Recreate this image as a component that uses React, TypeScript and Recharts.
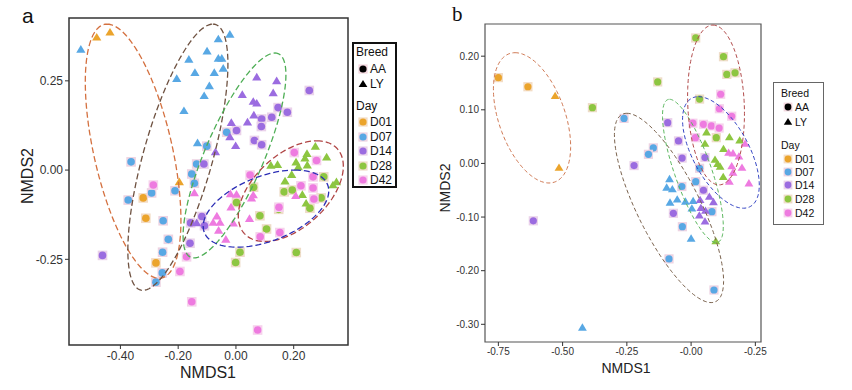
import React from "react";
import { ScatterChart, Scatter, XAxis, YAxis, ReferenceArea } from "recharts";

type Pt = [number, number];

const days = ["D01", "D07", "D14", "D28", "D42"];
const breeds = ["AA", "LY"];
const dayColors = ["#EBA42C", "#58A8E4", "#9B6CE0", "#8DC641", "#EE7BE0"];
const haloColors = ["#F3DCC4", "#EDD3E2", "#EAD2EA", "#EEDCC8", "#F6D2EC"];

// panel a points (NMDS1, NMDS2)
const aD01AA: Pt[] = [[-0.321, -0.078], [-0.312, -0.135], [-0.277, -0.26]];
const aD01LY: Pt[] = [[-0.482, 0.372], [-0.436, 0.386], [-0.196, -0.033]];
const aD07AA: Pt[] = [
  [-0.032, 0.106], [-0.101, 0.067], [-0.136, 0.017], [-0.153, -0.011], [-0.144, -0.037],
  [-0.211, -0.058], [-0.292, -0.064], [-0.373, -0.084], [-0.363, 0.023], [-0.252, -0.142],
  [-0.234, -0.194], [-0.254, -0.23], [-0.255, -0.288], [-0.277, -0.314],
];
const aD07LY: Pt[] = [
  [-0.537, 0.338], [-0.205, 0.256], [-0.163, 0.31], [-0.142, 0.273], [-0.18, 0.166],
  [-0.1, 0.333], [-0.11, 0.208], [-0.092, 0.236], [-0.075, 0.273], [-0.061, 0.367],
  [-0.061, 0.313], [-0.049, 0.313], [-0.044, 0.285], [-0.021, 0.38], [-0.133, 0.076],
];
const aD14AA: Pt[] = [
  [0.254, 0.223], [0.146, 0.175], [0.178, 0.162], [0.124, 0.148], [0.089, 0.143],
  [0.088, 0.122], [0.002, 0.111], [0.064, 0.083], [0.089, 0.071], [-0.111, 0.017],
  [-0.157, -0.148], [-0.118, -0.13], [-0.109, -0.156], [-0.159, -0.205], [-0.462, -0.239],
];
const aD14LY: Pt[] = [
  [0.072, 0.26], [0.141, 0.25], [0.022, 0.211], [0.129, 0.216], [0.06, 0.192],
  [0.072, 0.187], [0.062, 0.154], [0.04, 0.134], [-0.016, 0.133], [-0.021, 0.093],
  [-0.001, 0.068], [-0.071, 0.051], [-0.136, -0.148],
];
const aD28AA: Pt[] = [
  [0.304, -0.019], [0.167, -0.061], [0.195, -0.056], [0.295, -0.078], [0.256, -0.107],
  [0.148, -0.11], [0.083, -0.128], [0.106, -0.165], [0.061, -0.048], [0.002, -0.091],
  [0.014, -0.23], [-0.001, -0.259], [0.209, -0.231],
];
const aD28LY: Pt[] = [
  [0.275, 0.066], [0.246, 0.046], [0.239, 0.033], [0.208, 0.022], [0.314, 0.036],
  [0.121, 0.013], [0.144, 0.015], [0.216, 0.009], [0.247, 0.014], [0.17, -0.031],
  [0.193, -0.013], [0.348, -0.033], [0.336, -0.042], [0.23, -0.069], [0.243, -0.093],
];
const aD42AA: Pt[] = [
  [0.202, 0.049], [0.279, 0.027], [0.225, -0.044], [0.267, -0.05], [0.27, -0.081],
  [0.267, -0.019], [0.049, -0.014], [0.149, -0.104], [0.152, -0.175], [0.084, -0.187],
  [-0.171, -0.243], [-0.194, -0.284], [-0.153, -0.369], [0.075, -0.448], [-0.286, -0.042],
];
const aD42LY: Pt[] = [
  [-0.144, -0.064], [-0.019, -0.067], [0.002, -0.068], [0.06, -0.07], [0.054, -0.079],
  [-0.017, -0.104], [-0.066, -0.129], [-0.079, -0.147], [-0.055, -0.147], [-0.06, -0.169],
  [-0.009, -0.149], [-0.035, -0.194], [0.047, -0.136], [0.207, -0.072],
];

// panel b points
const bD01AA: Pt[] = [[-0.75, 0.16], [-0.635, 0.143]];
const bD01LY: Pt[] = [[-0.529, 0.126], [-0.514, -0.008]];
const bD07AA: Pt[] = [
  [-0.261, 0.084], [-0.147, 0.029], [-0.166, 0.017], [0.033, -0.009], [-0.036, -0.043],
  [0.018, -0.034], [-0.034, -0.118], [0.081, -0.09], [-0.086, -0.178], [0.089, -0.236],
];
const bD07LY: Pt[] = [
  [-0.084, -0.029], [-0.095, -0.045], [-0.073, -0.048], [-0.082, -0.073], [-0.054, -0.067],
  [-0.022, -0.071], [0.008, -0.07], [0.003, -0.084], [0.0, -0.14], [-0.423, -0.306],
];
const bD14AA: Pt[] = [
  [-0.091, 0.076], [-0.049, 0.042], [-0.035, 0.01], [0.054, 0.011], [-0.222, -0.004],
  [0.048, -0.05], [-0.069, -0.093], [-0.614, -0.107],
];
const bD14LY: Pt[] = [
  [0.035, -0.068], [0.071, -0.062], [0.087, -0.072], [0.038, -0.083], [0.056, -0.088],
  [0.032, -0.097], [0.054, -0.108],
];
const bD28AA: Pt[] = [
  [0.018, 0.234], [0.126, 0.199], [0.139, 0.166], [0.171, 0.169], [-0.13, 0.152],
  [-0.384, 0.104], [0.033, 0.12], [0.098, 0.048],
];
const bD28LY: Pt[] = [
  [0.06, 0.058], [0.054, 0.037], [0.093, 0.007], [0.103, -0.001], [0.113, -0.006],
  [0.126, 0.027], [0.149, 0.049], [0.125, -0.025], [0.189, 0.043], [0.096, -0.145],
];
const bD42AA: Pt[] = [
  [0.115, 0.129], [0.11, 0.102], [0.158, 0.088], [0.007, 0.075], [0.048, 0.073],
  [0.079, 0.07], [0.109, 0.066], [0.017, 0.048],
];
const bD42LY: Pt[] = [
  [0.21, 0.037], [0.146, 0.02], [0.163, 0.019], [0.186, 0.013], [0.158, -0.005],
  [0.198, -0.008], [0.163, -0.017], [0.149, -0.034], [0.225, -0.037],
];

// ellipses: centre x, centre y, top-axis dx, top-axis dy, horizontal half-chord
const aEllipses = [
  [-0.356, 0.053, -0.09, 0.356, 0.139],
  [-0.201, 0.036, 0.121, 0.373, 0.124],
  [-0.005, 0.041, 0.14, 0.287, 0.11],
  [0.19, -0.059, 0.09, 0.141, 0.158],
  [0.104, -0.108, 0.1, 0.108, 0.193],
];
const aEllipseColors = ["#D4703F", "#6E5140", "#4EAE55", "#B04545", "#2B2DB5"];
const bEllipses = [
  [-0.619, 0.085, -0.066, 0.1215, 0.135],
  [-0.086, -0.083, -0.164, 0.1765, 0.135],
  [0.007, -0.014, -0.091, 0.1336, 0.0755],
  [0.097, 0.109, -0.012, 0.149, 0.11],
  [0.116, 0.0205, -0.0875, 0.104, 0.121],
];
const bEllipseColors = ["#D07A55", "#7B634E", "#5DB860", "#B24C4C", "#3344C4"];

const aXTicks = [-0.4, -0.2, 0, 0.2];
const aYTicks = [-0.25, 0, 0.25];
const bXTicks = [-0.75, -0.5, -0.25, 0, 0.25];
const bXTickLabels = ["-0.75", "-0.50", "-0.25", "-0.00", "-0.25"];
const bYTicks = [-0.3, -0.2, -0.1, 0, 0.1, 0.2];

const toXY = (pts: Pt[]) => pts.map(([x, y]) => ({ x, y }));

const outline = (e: number[]) => {
  const [cx, cy, ux, uy, vx] = e;
  const out = [];
  for (let i = 0; i <= 120; i++) {
    const t = (i / 120) * Math.PI * 2;
    out.push({ x: cx + ux * Math.cos(t) + vx * Math.sin(t), y: cy + uy * Math.cos(t) });
  }
  return out;
};

const dot = (color: string, halo: string, r: number) => (p: any) => (
  <g>
    <rect x={p.cx - r - 1} y={p.cy - r - 1} width={2 * r + 2} height={2 * r + 2} fill={halo} />
    <circle cx={p.cx} cy={p.cy} r={r} fill={color} />
  </g>
);
const tri = (color: string, s: number) => (p: any) => (
  <polygon
    points={`${p.cx},${p.cy - s} ${p.cx - s * 1.05},${p.cy + s * 0.75} ${p.cx + s * 1.05},${p.cy + s * 0.75}`}
    fill={color}
  />
);
const noShape = () => <g />;

const tickStyle = { fill: "#333", fontFamily: "Liberation Sans, Arial, sans-serif" };

function Panel(props: any) {
  const { aa, ly, ellipses, ellipseColors, xDom, yDom, xTicks, yTicks, xFmt, yFmt,
    width, margin, yWidth, xHeight, fontSize, frame, frameW, r, s, dash, ellW } = props;
  return (
    <ScatterChart width={width} height={390} margin={margin}>
      <XAxis type="number" dataKey="x" domain={xDom} ticks={xTicks} tickFormatter={xFmt}
        allowDataOverflow axisLine={false} tickSize={4} tickMargin={2} height={xHeight}
        tick={{ ...tickStyle, fontSize }} tickLine={{ stroke: "#333" }} interval={0} />
      <YAxis type="number" dataKey="y" domain={yDom} ticks={yTicks} tickFormatter={yFmt}
        allowDataOverflow axisLine={false} tickSize={4} tickMargin={2} width={yWidth}
        tick={{ ...tickStyle, fontSize }} tickLine={{ stroke: "#333" }} interval={0} />
      <ReferenceArea x1={xDom[0]} x2={xDom[1]} y1={yDom[0]} y2={yDom[1]} fill="none"
        fillOpacity={0} stroke={frame} strokeWidth={frameW} />
      {days.map((d, i) => (
        <Scatter key={"aa" + d} data={toXY(aa[i])} shape={dot(dayColors[i], haloColors[i], r)}
          isAnimationActive={false} />
      ))}
      {days.map((d, i) => (
        <Scatter key={"ly" + d} data={toXY(ly[i])} shape={tri(dayColors[i], s)}
          isAnimationActive={false} />
      ))}
      {ellipses.map((e: number[], i: number) => (
        <Scatter key={"el" + i} data={outline(e)} shape={noShape} lineType="joint"
          line={{ stroke: ellipseColors[i], strokeWidth: ellW, strokeDasharray: dash, fill: "none" }}
          isAnimationActive={false} />
      ))}
    </ScatterChart>
  );
}

function Legend(props: any) {
  const { left, top, width, height, border, fontSize, tx, ix, rows, r } = props;
  const font = "Liberation Sans, Arial, sans-serif";
  const text = (label: string, x: number, y: number) => (
    <div key={label + y} style={{ position: "absolute", left: x, top: y - fontSize * 0.6,
      fontSize, lineHeight: `${fontSize * 1.2}px`, fontFamily: font, color: "#111", whiteSpace: "nowrap" }}>
      {label}
    </div>
  );
  return (
    <div style={{ position: "absolute", left, top, width, height, border, boxSizing: "border-box", background: "#fff" }}>
      {text("Breed", tx, rows[0])}
      {breeds.map((b, i) => (
        <React.Fragment key={b}>
          <svg style={{ position: "absolute", left: ix - 6, top: rows[i + 1] - 6 }} width={12} height={12}>
            {i === 0 ? (
              <g>
                <rect x={6 - r - 1} y={6 - r - 1} width={2 * r + 2} height={2 * r + 2} fill="#F2D6DE" />
                <circle cx={6} cy={6} r={r} fill="#000" />
              </g>
            ) : (
              <polygon points={`6,${6 - r - 0.5} ${6 - r - 0.8},${6 + r * 0.8} ${6 + r + 0.8},${6 + r * 0.8}`} fill="#000" />
            )}
          </svg>
          {text(b, ix + 7, rows[i + 1])}
        </React.Fragment>
      ))}
      {text("Day", tx, rows[3])}
      {days.map((d, i) => (
        <React.Fragment key={d}>
          <svg style={{ position: "absolute", left: ix - 6, top: rows[i + 4] - 6 }} width={12} height={12}>
            <rect x={6 - r - 1} y={6 - r - 1} width={2 * r + 2} height={2 * r + 2} fill={haloColors[i]} />
            <circle cx={6} cy={6} r={r} fill={dayColors[i]} />
          </svg>
          {text(d, ix + 7, rows[i + 4])}
        </React.Fragment>
      ))}
    </div>
  );
}

export default function App() {
  const sans = "Liberation Sans, Arial, sans-serif";
  return (
    <div style={{ position: "absolute", left: 0, top: 0, width: 852, height: 390, background: "#fff", overflow: "hidden" }}>
      <div style={{ position: "absolute", left: 0, top: 0 }}>
        <Panel
          aa={[aD01AA, aD07AA, aD14AA, aD28AA, aD42AA]}
          ly={[aD01LY, aD07LY, aD14LY, aD28LY, aD42LY]}
          ellipses={aEllipses} ellipseColors={aEllipseColors}
          xDom={[-0.578, 0.388]} yDom={[-0.49, 0.426]}
          xTicks={aXTicks} yTicks={aYTicks}
          xFmt={(v: number) => v.toFixed(2)} yFmt={(v: number) => v.toFixed(2)}
          width={350} margin={{ top: 18, right: 2, bottom: 0, left: 9 }}
          yWidth={60} xHeight={45} fontSize={12} frame="#333" frameW={1.5}
          r={3.8} s={4.4} dash="6 3" ellW={1.3}
        />
      </div>
      <div style={{ position: "absolute", left: 430, top: 0 }}>
        <Panel
          aa={[bD01AA, bD07AA, bD14AA, bD28AA, bD42AA]}
          ly={[bD01LY, bD07LY, bD14LY, bD28LY, bD42LY]}
          ellipses={bEllipses} ellipseColors={bEllipseColors}
          xDom={[-0.802, 0.272]} yDom={[-0.333, 0.26]}
          xTicks={bXTicks} yTicks={bYTicks}
          xFmt={(v: number) => bXTickLabels[bXTicks.indexOf(v)] ?? v.toFixed(2)}
          yFmt={(v: number) => v.toFixed(2)}
          width={345} margin={{ top: 24, right: 14, bottom: 0, left: 5 }}
          yWidth={50} xHeight={48} fontSize={10} frame="#555" frameW={1.2}
          r={3.6} s={4.2} dash="4 2.5" ellW={1}
        />
      </div>

      <div style={{ position: "absolute", left: 22, top: 4, fontSize: 21, fontFamily: sans, color: "#111" }}>a</div>
      <div style={{ position: "absolute", left: 452, top: 2, fontSize: 21, fontFamily: "Liberation Serif, Times New Roman, serif", color: "#111" }}>b</div>

      <div style={{ position: "absolute", left: 208, top: 373, transform: "translate(-50%,-50%)", fontSize: 16, fontFamily: sans, color: "#222" }}>NMDS1</div>
      <div style={{ position: "absolute", left: 28, top: 176, transform: "translate(-50%,-50%) rotate(-90deg)", fontSize: 16, fontFamily: sans, color: "#222" }}>NMDS2</div>
      <div style={{ position: "absolute", left: 626, top: 368, transform: "translate(-50%,-50%)", fontSize: 14, fontFamily: sans, color: "#222" }}>NMDS1</div>
      <div style={{ position: "absolute", left: 445, top: 188, transform: "translate(-50%,-50%) rotate(-90deg)", fontSize: 14, fontFamily: sans, color: "#222" }}>NMDS2</div>

      <Legend left={352} top={42} width={45} height={146} border="2px solid #111" fontSize={12}
        tx={2} ix={9} rows={[8, 25, 40, 62, 78, 93, 107, 122, 136]} r={3.6} />
      <Legend left={773} top={82} width={51} height={143} border="1.5px solid #666" fontSize={10.5}
        tx={7} ix={14} rows={[10, 24, 39, 62, 76, 89, 102, 116, 130]} r={3.4} />
    </div>
  );
}
